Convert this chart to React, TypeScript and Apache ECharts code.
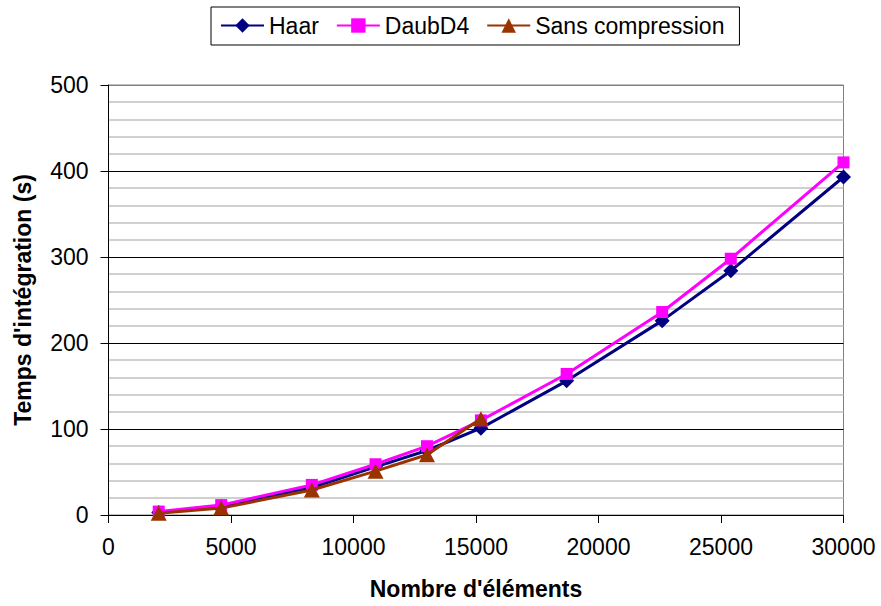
import React, { useEffect, useRef } from "react";
import * as echarts from "echarts";

const elements = [2050, 4600, 8300, 10900, 13000, 15200, 18700, 22600, 25400, 30000];
const haar = [3, 10, 32, 56, 75, 101, 156, 226, 284, 393];
const daubD4 = [4, 11.5, 35, 59, 80, 110, 164, 236, 298, 410];
const sansCompression = [2, 8, 29, 51, 70, 112];

const seriesNames = ["Haar", "DaubD4", "Sans compression"];

const pairs = (xs: number[], ys: number[]) => ys.map((y, i) => [xs[i], y]);

export default function App() {
  const ref = useRef<HTMLDivElement>(null);
  useEffect(() => {
    if (!ref.current) return;
    const chart = echarts.init(ref.current, null, { renderer: "svg" });
    const font = "'Liberation Sans', Arial, sans-serif";
    chart.setOption({
      animation: false,
      backgroundColor: "#ffffff",
      textStyle: { fontFamily: font, color: "#000" },
      legend: {
        top: 7,
        left: 211,
        data: seriesNames,
        itemWidth: 43,
        itemHeight: 18,
        itemGap: 17,
        padding: [7, 15, 8, 9],
        borderColor: "#000",
        borderWidth: 1,
        textStyle: { fontSize: 23, color: "#000", fontFamily: font },
      },
      grid: {
        left: 108.5,
        right: 37.5,
        top: 85,
        bottom: 91,
        show: true,
        borderColor: "#808080",
        borderWidth: 1,
        backgroundColor: "#ffffff",
      },
      xAxis: {
        type: "value",
        min: 0,
        max: 30000,
        interval: 5000,
        name: "Nombre d'éléments",
        nameLocation: "middle",
        nameGap: 62,
        nameTextStyle: { fontSize: 23, fontWeight: "bold", color: "#000", fontFamily: font },
        axisLine: { show: true, onZero: false, lineStyle: { color: "#000", width: 1 } },
        axisTick: { show: true, inside: false, length: 8, lineStyle: { color: "#000" } },
        axisLabel: {
          fontSize: 23,
          color: "#000",
          margin: 20,
          fontFamily: font,
          formatter: (v: number) => String(v),
        },
        splitLine: { show: false },
      },
      yAxis: {
        type: "value",
        min: 0,
        max: 500,
        interval: 100,
        name: "Temps d'intégration (s)",
        nameLocation: "middle",
        nameRotate: 90,
        nameGap: 74,
        nameTextStyle: { fontSize: 23, fontWeight: "bold", color: "#000", fontFamily: font },
        axisLine: { show: true, lineStyle: { color: "#000", width: 1 } },
        axisTick: { show: true, inside: false, length: 8, lineStyle: { color: "#000" } },
        axisLabel: {
          fontSize: 23,
          color: "#000",
          margin: 20,
          fontFamily: font,
          formatter: (v: number) => String(v),
        },
        splitLine: {
          show: true,
          lineStyle: { color: ["#000", "#000", "#000", "#000", "#000", "#808080"], width: 1 },
        },
        minorTick: { show: false, splitNumber: 5 },
        minorSplitLine: { show: true, lineStyle: { color: "#c0c0c0", width: 1.5 } },
      },
      series: [
        {
          name: seriesNames[0],
          type: "line",
          data: pairs(elements, haar),
          symbol: "diamond",
          symbolSize: 15,
          itemStyle: { color: "#000080" },
          lineStyle: { color: "#000080", width: 3 },
          z: 2,
        },
        {
          name: seriesNames[1],
          type: "line",
          data: pairs(elements, daubD4),
          symbol: "rect",
          symbolSize: 12,
          itemStyle: { color: "#ff00ff" },
          lineStyle: { color: "#ff00ff", width: 3 },
          z: 3,
        },
        {
          name: seriesNames[2],
          type: "line",
          data: pairs(elements, sansCompression),
          symbol: "triangle",
          symbolSize: [16, 15],
          itemStyle: { color: "#993300" },
          lineStyle: { color: "#993300", width: 3 },
          z: 4,
        },
      ],
    });
    return () => chart.dispose();
  }, []);
  return (
    <div
      ref={ref}
      style={{ position: "fixed", left: 0, top: 0, width: 881, height: 606, background: "#fff" }}
    />
  );
}
